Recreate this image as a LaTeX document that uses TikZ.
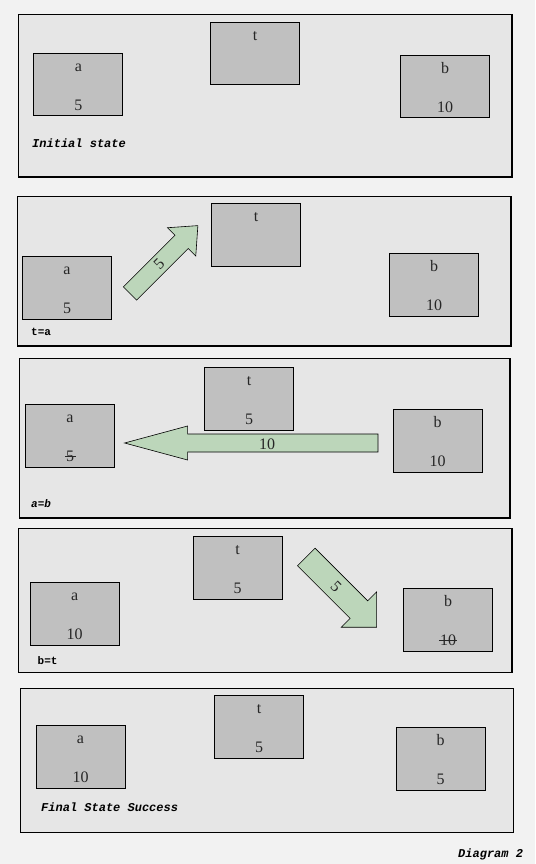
\documentclass[tikz,border=0pt]{standalone}
\usepackage{fontspec}
\setmainfont{Liberation Serif}
\newfontfamily\capfont{Liberation Mono}
\usetikzlibrary{calc}
\definecolor{bggray}{HTML}{F2F2F2}
\definecolor{panelgray}{HTML}{E6E6E6}
\definecolor{boxgray}{HTML}{C0C0C0}
\definecolor{arrowgreen}{HTML}{BCD6BA}
\definecolor{textgray}{HTML}{262626}
\newcommand\mybox[5]{%
  \node[varbox] (#1) at (#2,#3) {};
  \node[lbl] (#1-name) at ($(#1.north)+(0,18.5)$) {#4};
  \node[lbl] (#1-val) at ($(#1.south)+(0,-6)$) {#5};
}
\begin{document}
\begin{tikzpicture}[x=1pt,y=-1pt,
  panel/.style={draw=black, line width=1.3pt, fill=panelgray},
  varbox/.style={draw=black, line width=1pt, fill=boxgray, minimum width=89pt, minimum height=62.5pt, inner sep=0pt, anchor=north west},
  lbl/.style={font=\fontsize{16}{16}\selectfont, text=textgray, inner sep=0pt, anchor=base},
  captext/.style={font=\capfont\bfseries\itshape\fontsize{12}{12}\selectfont, text=black, inner sep=0pt, anchor=base west},
  capup/.style={font=\capfont\bfseries\fontsize{11}{11}\selectfont, text=black, inner sep=0pt, anchor=base west},
  blk/.style={draw=black, line width=0.6pt, fill=arrowgreen, line join=miter},
  strike/.style={draw=textgray, line width=0.8pt}]
\fill[bggray] (0,0) rectangle (535,864);
\useasboundingbox (0,0) rectangle (535,864);

% ---------- Panel 1 ----------
\draw[panel] (18.8,14.3) rectangle (512,177);
\mybox{a1}{33.4}{53}{a}{5}
\mybox{t1}{210}{22}{t}{}
\mybox{b1}{400}{55}{b}{10}
\node[captext] (c1) at (32,147.5) {Initial state};

% ---------- Panel 2 ----------
\draw[panel] (17.7,196.7) rectangle (511,346);
\mybox{a2}{22}{256}{a}{5}
\mybox{t2}{211}{203}{t}{}
\mybox{b2}{389}{253}{b}{10}
\begin{scope}[shift={(130,293.5)}, rotate=45]
  \draw[blk] (0,-9.35) -- (73,-9.35) -- (73,-20) -- (96,0) -- (73,20) -- (73,9.35) -- (0,9.35) -- cycle;
  \node[lbl, anchor=center, rotate=45] (m2) at (41,0) {5};
\end{scope}
\node[capup] (c2) at (31,335.5) {t=a};

% ---------- Panel 3 ----------
\draw[panel] (19.5,358.3) rectangle (510,518);
\mybox{a3}{25}{404}{a}{5}
\mybox{t3}{204}{367}{t}{5}
\mybox{b3}{392.5}{409}{b}{10}
\draw[strike] ([xshift=-0.8pt,yshift=4.8pt]a3-val.base west) -- ([xshift=2pt,yshift=4.8pt]a3-val.base east);
\begin{scope}[shift={(378,443)}, rotate=180]
  \draw[blk] (0,-9) -- (190.4,-9) -- (190.4,-17) -- (253.4,0) -- (190.4,17) -- (190.4,9) -- (0,9) -- cycle;
\end{scope}
\node[lbl, anchor=center] (m3) at (267,444) {10};
\node[captext, font=\capfont\bfseries\itshape\fontsize{11}{11}\selectfont] (c3) at (31,507.5) {a=b};

% ---------- Panel 4 ----------
\draw[panel] (18.8,528.3) rectangle (512,672.3);
\mybox{a4}{29.7}{582}{a}{10}
\mybox{t4}{192.5}{536}{t}{5}
\mybox{b4}{403}{588}{b}{10}
\draw[strike] ([xshift=-1pt,yshift=4.8pt]b4-val.base west) -- ([xshift=1pt,yshift=4.8pt]b4-val.base east);
\begin{scope}[shift={(306.3,557)}, rotate=-45]
  \draw[blk] (0,-12.4) -- (74.4,-12.4) -- (74.4,-25) -- (99.4,0) -- (74.4,25) -- (74.4,12.4) -- (0,12.4) -- cycle;
  \node[lbl, anchor=center, rotate=-45] (m4) at (42,0) {5};
\end{scope}
\node[capup] (c4) at (37.5,664) {b=t};

% ---------- Panel 5 ----------
\draw[panel] (20.5,688.3) rectangle (513.6,832.3);
\mybox{a5}{35.5}{725}{a}{10}
\mybox{t5}{214}{695}{t}{5}
\mybox{b5}{395.6}{727}{b}{5}
\node[captext] (c5) at (41,811.5) {Final State Success};

\node[captext] (diag) at (458,857.5) {Diagram 2};
\end{tikzpicture}
\end{document}
